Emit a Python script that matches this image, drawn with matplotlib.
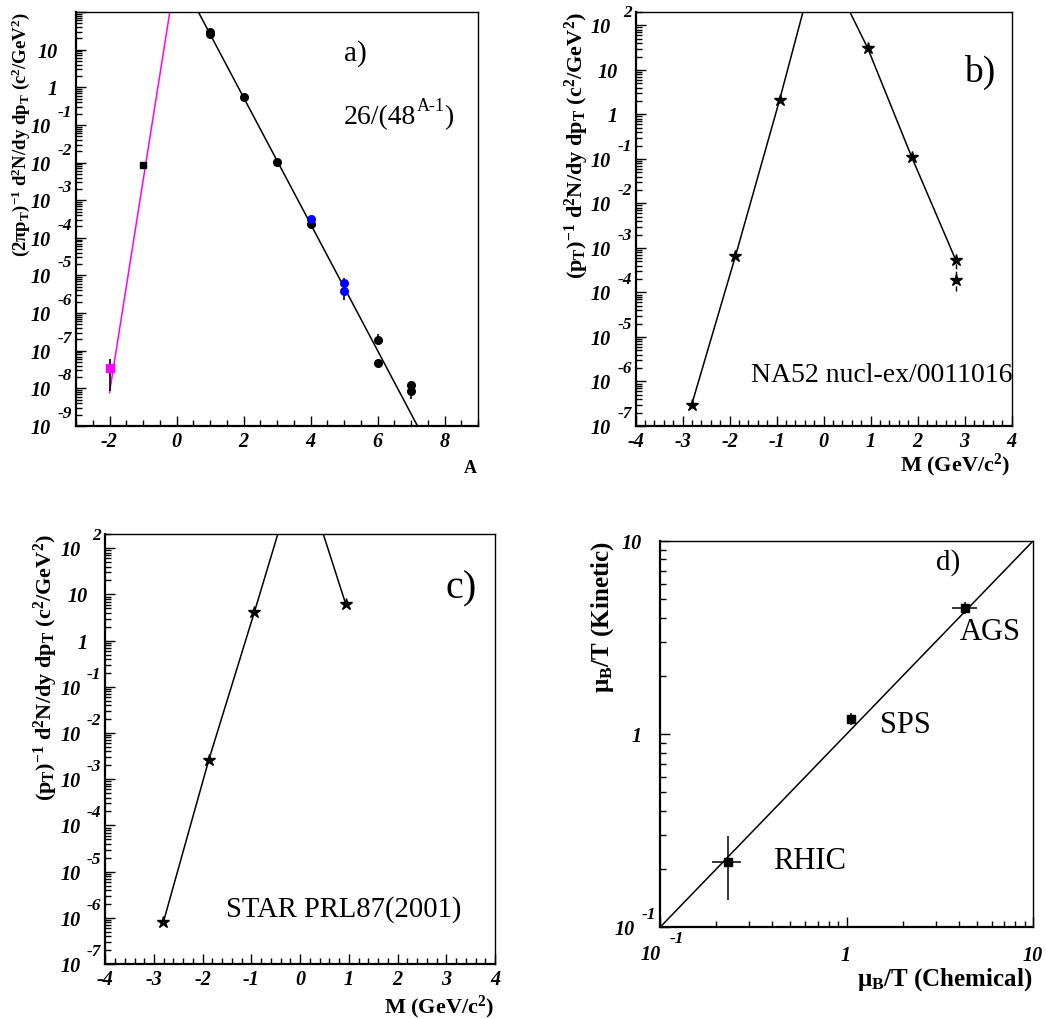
import numpy as np
import matplotlib
matplotlib.use('Agg')
import matplotlib.pyplot as plt
from matplotlib.ticker import MultipleLocator, LogLocator, NullFormatter

W, H = 1046, 1019

plt.rcParams['font.family'] = 'Liberation Serif'
plt.rcParams['mathtext.fontset'] = 'custom'
plt.rcParams['mathtext.rm'] = 'Liberation Serif'
plt.rcParams['mathtext.it'] = 'Liberation Serif:italic'
plt.rcParams['mathtext.bf'] = 'Liberation Serif:bold'
plt.rcParams['axes.unicode_minus'] = False

# ---- panel a: yields vs baryon number A ----
a_fit_norm, a_fit_pen = 26.0, 48.0          # 26/(48^(A-1))
anti_line_A = [-2.0, -0.2]
anti_line_y = [7.7e-9, 1.0e2]
matter_A = [1, 1, 2, 3, 4, 6, 6, 7, 7]
matter_y = [29, 26, 0.54, 0.0105, 2.3e-4, 1.95e-7, 4.8e-8, 1.2e-8, 8.5e-9]
matter_lo = [29, 26, 0.54, 0.0088, 2.1e-4, 1.5e-7, 4.8e-8, 1.2e-8, 5.1e-9]
matter_hi = [29, 26, 0.54, 0.0125, 2.5e-4, 2.8e-7, 4.8e-8, 1.6e-8, 8.5e-9]
blue_A = [4, 5, 5]
blue_y = [3.2e-4, 6.3e-6, 3.9e-6]
blue_lo = [3.2e-4, 6.3e-6, 2.2e-6]
blue_hi = [3.9e-4, 8.7e-6, 3.9e-6]
antip_A, antip_y = [-1], [8.7e-3]
antid_A, antid_y = [-2], [3.4e-8]
antid_lo, antid_hi = [8.5e-9], [5.9e-8]

# ---- panel b: NA52 ----
b_M = [-2.809, -1.876, -0.938, 0.938, 1.876, 2.809, 2.809]
b_y = [3.0e-7, 6.6e-4, 2.1, 31, 0.11, 5.5e-4, 1.9e-4]
b_left_M = [-2.809, -1.876, -0.938, -0.44]
b_left_y = [3.0e-7, 6.6e-4, 2.1, 2.0e2]
b_right_M = [0.56, 0.938, 1.876, 2.809]
b_right_y = [2.0e2, 31, 0.11, 5.5e-4]
b_err_M, b_err_lo, b_err_hi = [2.809], [1.1e-4], [6.6e-4]

# ---- panel c: STAR ----
c_M = [-2.809, -1.876, -0.938, 0.938]
c_y = [8.0e-7, 2.6e-3, 4.2, 6.1]
c_left_M = [-2.809, -1.876, -0.938, -0.46]
c_left_y = [8.0e-7, 2.6e-3, 4.2, 2.0e2]
c_right_M = [0.476, 0.938]
c_right_y = [2.0e2, 6.1]

# ---- panel d: mu_B/T kinetic vs chemical ----
d_names = ['RHIC', 'SPS', 'AGS']
d_chem = [0.23, 1.06, 4.3]
d_chem_lo = [0.19, 1.04, 3.65]
d_chem_hi = [0.27, 1.08, 5.0]
d_kin = [0.217, 1.2, 4.5]
d_kin_lo = [0.139, 1.11, 4.2]
d_kin_hi = [0.296, 1.28, 4.83]
diag = [0.1, 10.0]

TICK = dict(family='Liberation Serif', weight='bold', style='italic', size=14.5)
EXPO = dict(family='Liberation Serif', weight='bold', style='italic', size=12.5)
LAB = dict(family='Liberation Serif', weight='bold')


def make_axes(fig, l, t, r, b):
    ax = fig.add_axes([l / W, 1 - b / H, (r - l) / W, (b - t) / H])
    for s in ['left', 'bottom']:
        ax.spines[s].set_linewidth(1.6)
    for s in ['top', 'right']:
        ax.spines[s].set_linewidth(1.0)
    ax.tick_params(which='both', direction='in', top=False, right=False,
                   labelleft=False, labelbottom=False, width=1)
    ax.tick_params(which='major', length=7)
    ax.tick_params(which='minor', length=4)
    return ax


def log_locators(axis):
    axis.set_major_locator(LogLocator(10, numticks=40))
    axis.set_minor_locator(LogLocator(10, subs=np.arange(2, 10), numticks=40))
    axis.set_minor_formatter(NullFormatter())


def ylog_labels(ax, exps):
    for e in exps:
        y = 10.0 ** e
        kw = dict(xycoords=('axes fraction', 'data'), textcoords='offset pixels',
                  va='center', annotation_clip=False)
        if e in (0, 1):
            ax.annotate('1' if e == 0 else '10', xy=(0, y), xytext=(-18, -3),
                        ha='right', **kw, **TICK)
        else:
            ax.annotate('10', xy=(0, y), xytext=(-25, -3), ha='right', **kw, **TICK)
            ax.annotate(str(e), xy=(0, y), xytext=(-4, 12), ha='right', **kw, **EXPO)


def xlog_labels(ax, exps):
    for e in exps:
        x = 10.0 ** e
        kw = dict(xycoords=('data', 'axes fraction'), textcoords='offset pixels',
                  va='center', annotation_clip=False)
        if e in (0, 1):
            ax.annotate('1' if e == 0 else '10', xy=(x, 0), xytext=(-1, -29),
                        ha='center', **kw, **TICK)
        else:
            ax.annotate('10', xy=(x, 0), xytext=(-9, -28), ha='center', **kw, **TICK)
            ax.annotate(str(e), xy=(x, 0), xytext=(10, -12), ha='left', **kw, **EXPO)


def lin_xticks(ax, ticks, minor):
    ax.set_xticks(ticks, [f'{t:g}' for t in ticks], **TICK)
    ax.xaxis.set_minor_locator(MultipleLocator(minor))
    ax.tick_params(axis='x', labelbottom=True, pad=4)


def ylabel(ax, text, dx, size=16):
    ax.annotate(text, xy=(0, 1), xycoords='axes fraction', xytext=(dx, 0),
                textcoords='offset pixels', rotation=90, ha='center', va='top',
                size=size, **LAB)


def xlabel(ax, text, dy, size=16):
    ax.annotate(text, xy=(1, 0), xycoords='axes fraction', xytext=(-1, dy),
                textcoords='offset pixels', ha='right', va='center', size=size, **LAB)


def note(ax, text, fx, fy, size, ha='center'):
    return ax.text(fx, fy, text, transform=ax.transAxes, ha=ha, va='center', size=size)


fig = plt.figure(figsize=(W / 100, H / 100), dpi=100)

# ---------------- a ----------------
ax = make_axes(fig, 76, 12, 478, 426)
ax.set_yscale('log')
ax.set_xlim(-3, 9)
ax.set_ylim(1e-9, 1e2)
log_locators(ax.yaxis)
A = np.linspace(0, 7.6, 100)
ax.plot(A, a_fit_norm / a_fit_pen ** (A - 1), color='black', lw=1.1)
ax.plot(anti_line_A, anti_line_y, color='magenta', lw=1.1)
m_y = np.array(matter_y)
ax.errorbar(matter_A, m_y, yerr=[m_y - np.array(matter_lo), np.array(matter_hi) - m_y],
            fmt='o', color='black', ms=5.5, lw=1.2, capsize=0, zorder=3)
bl_y = np.array(blue_y)
ax.errorbar(blue_A, bl_y, yerr=[bl_y - np.array(blue_lo), np.array(blue_hi) - bl_y],
            fmt='o', color='blue', ecolor='black', ms=5.5, lw=1.2, capsize=0, zorder=4)
ax.plot(antip_A, antip_y, 's', color='black', ms=4.5, zorder=4)
ad_y = np.array(antid_y)
ax.errorbar(antid_A, ad_y, yerr=[ad_y - np.array(antid_lo), np.array(antid_hi) - ad_y],
            fmt='s', color='magenta', ecolor='black', ms=5.5, lw=1.2, capsize=0, zorder=4)
lin_xticks(ax, [-2, 0, 2, 4, 6, 8], 0.5)
ylog_labels(ax, range(-9, 2))
ylabel(ax, r'(2πp$_{\mathbf{T}}$)$^{\mathbf{-1}}$ d$^{\mathbf{2}}$N/dy dp$_{\mathbf{T}}$ (c$^{\mathbf{2}}$/GeV$^{\mathbf{2}}$)',
       -55, size=13.5)
xlabel(ax, 'A', -42, size=13)
note(ax, 'a)', 0.696, 0.899, 21)
t1 = note(ax, '26/(48', 0.667, 0.745, 20, ha='left')
t2 = ax.annotate('A-1', xy=(1.0, 0.62), xycoords=t1, ha='left', va='bottom', size=13)
ax.annotate(')', xy=(1.0, 0.5), xycoords=(t2, t1), ha='left', va='center', size=20)

# ---------------- b ----------------
ax = make_axes(fig, 635.7, 12, 1011.5, 426)
ax.set_yscale('log')
ax.set_xlim(-4, 4)
ax.set_ylim(1e-7, 2e2)
log_locators(ax.yaxis)
ax.plot(b_left_M, b_left_y, color='black', lw=1.1)
ax.plot(b_right_M, b_right_y, color='black', lw=1.1)
eb = ax.errorbar(b_err_M, b_err_lo, yerr=[[0], [b_err_hi[0] - b_err_lo[0]]],
                 fmt='none', ecolor='black', lw=1.0, capsize=0)
eb[2][0].set_linestyle('--')
ax.plot(b_M, b_y, '*', color='black', ms=9, zorder=4)
lin_xticks(ax, [-4, -3, -2, -1, 0, 1, 2, 3, 4], 0.2)
ylog_labels(ax, range(-7, 3))
ylabel(ax, r'(p$_{\mathbf{T}}$)$^{\mathbf{-1}}$ d$^{\mathbf{2}}$N/dy dp$_{\mathbf{T}}$ (c$^{\mathbf{2}}$/GeV$^{\mathbf{2}}$)', -59)
xlabel(ax, r'M (GeV/c$^{\mathbf{2}}$)', -39)
note(ax, 'b)', 0.915, 0.855, 27)
note(ax, 'NA52 nucl-ex/0011016', 1.002, 0.123, 20, ha='right')

# ---------------- c ----------------
ax = make_axes(fig, 105.3, 534.3, 495, 964)
ax.set_yscale('log')
ax.set_xlim(-4, 4)
ax.set_ylim(1e-7, 2e2)
log_locators(ax.yaxis)
ax.plot(c_left_M, c_left_y, color='black', lw=1.1)
ax.plot(c_right_M, c_right_y, color='black', lw=1.1)
ax.plot(c_M, c_y, '*', color='black', ms=9, zorder=4)
lin_xticks(ax, [-4, -3, -2, -1, 0, 1, 2, 3, 4], 0.2)
ylog_labels(ax, range(-7, 3))
ylabel(ax, r'(p$_{\mathbf{T}}$)$^{\mathbf{-1}}$ d$^{\mathbf{2}}$N/dy dp$_{\mathbf{T}}$ (c$^{\mathbf{2}}$/GeV$^{\mathbf{2}}$)', -59)
xlabel(ax, r'M (GeV/c$^{\mathbf{2}}$)', -43)
note(ax, 'c)', 0.913, 0.872, 29)
note(ax, 'STAR PRL87(2001)', 0.613, 0.126, 20.6)

# ---------------- d ----------------
ax = make_axes(fig, 660, 540.7, 1033.3, 927.3)
ax.set_xscale('log')
ax.set_yscale('log')
ax.set_xlim(0.1, 10)
ax.set_ylim(0.1, 10)
log_locators(ax.xaxis)
log_locators(ax.yaxis)
ax.plot(diag, diag, color='black', lw=1.1)
dc, dk = np.array(d_chem), np.array(d_kin)
ax.errorbar(dc, dk, xerr=[dc - np.array(d_chem_lo), np.array(d_chem_hi) - dc],
            yerr=[dk - np.array(d_kin_lo), np.array(d_kin_hi) - dk],
            fmt='s', color='black', ms=6, lw=1.1, capsize=0, zorder=4)
xlog_labels(ax, [-1, 0, 1])
ylog_labels(ax, [-1, 0, 1])
ylabel(ax, r'μ$_{\mathbf{B}}$/T (Kinetic)', -57, size=18)
xlabel(ax, r'μ$_{\mathbf{B}}$/T (Chemical)', -52, size=18)
note(ax, 'd)', 0.771, 0.944, 21)
note(ax, 'AGS', 0.884, 0.762, 22)
note(ax, 'SPS', 0.656, 0.523, 22)
note(ax, 'RHIC', 0.401, 0.171, 22)

fig.savefig('out.png', dpi=100)
